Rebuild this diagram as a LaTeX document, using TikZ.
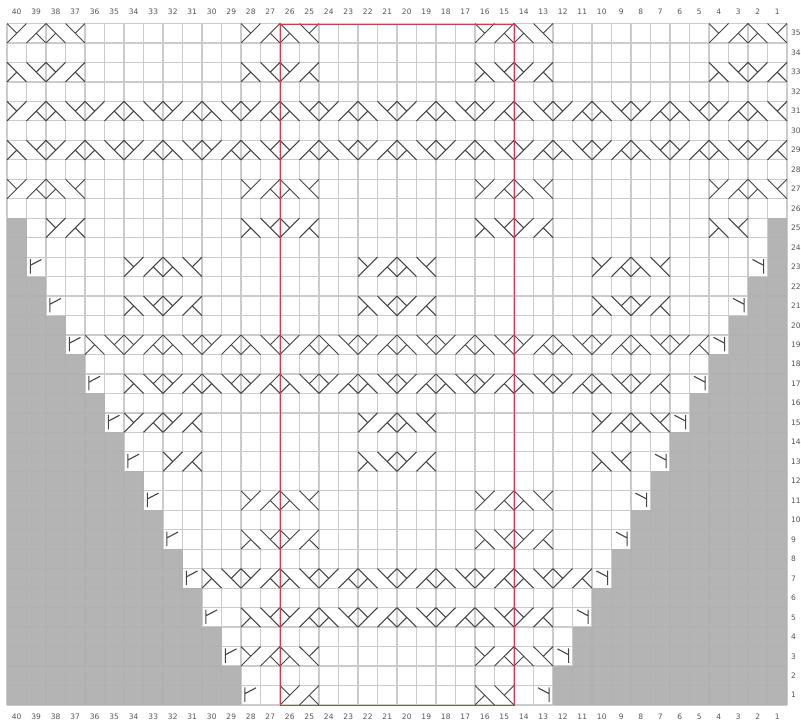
\documentclass[tikz,border=0pt]{standalone}
\usepackage{fontspec}
\setmainfont{DejaVu Sans}
\definecolor{gridline}{HTML}{CBCBCB}
\definecolor{edgegray}{HTML}{B0B0B0}
\definecolor{stitch}{HTML}{444444}
\definecolor{repeatbox}{HTML}{CC3F48}
\definecolor{numeral}{HTML}{555555}
\tikzset{
  stitchline/.style={draw=stitch,line width=1pt},
  ruling/.style={draw=gridline,line width=1.2pt},
  wipe/.style={draw=white,line width=1.8pt},
  numlabel/.style={font=\fontsize{7.5}{9}\selectfont,text=numeral,inner sep=0pt},
  cable0/.pic={\draw[wipe] (1,.05)--(1,.95);
    \draw[stitchline] (0,1)--(1,0) (0,0)--(.5,.5);},
  cable1/.pic={\draw[stitchline] (0,1)--(1,0) (.5,.5)--(1,1);},
  cable2/.pic={\draw[wipe] (1,.05)--(1,.95);
    \draw[stitchline] (0,0)--(1,1) (.5,.5)--(0,1);},
  cable3/.pic={\draw[stitchline] (0,0)--(1,1) (1,0)--(.5,.5);},
  flagleft/.pic={\draw[stitchline,line width=1.1pt] (.2,.84)--(.2,.1) (.2,.42)--(.77,.12);},
  flagright/.pic={\draw[stitchline,line width=1.1pt] (.8,.84)--(.8,.1) (.8,.42)--(.23,.12);}
}
% #1 chart row from the top, #2 first cell, #3 last cell, #4 phase
\newcommand{\cablerun}[4]{
  \foreach \i in {#2,...,#3}{
    \pgfmathtruncatemacro{\k}{mod(\i+#4,4)}
    \pic at (\i,#1) {cable\k};
  }
}
% the four repeats of the wide motif
\newcommand{\widerows}[2]{
  \cablerun{#1}{0}{3}{#2}
  \cablerun{#1}{12}{15}{#2}
  \cablerun{#1}{24}{27}{#2}
  \cablerun{#1}{36}{39}{#2}
}
% the two inner repeats of the offset motif
\newcommand{\offsetrows}[2]{
  \cablerun{#1}{18}{21}{#2}
  \cablerun{#1}{30}{33}{#2}
}
\begin{document}
\begin{tikzpicture}[x=19.5pt,y=-19.47pt]
\useasboundingbox (-0.359,-1.207) rectangle (40.718,35.98);
\fill[white] (-0.359,-1.207) rectangle (40.718,35.98);
% grid
\foreach \i in {0,...,40} \draw[ruling] (\i,0)--(\i,35);
\foreach \j in {0,...,35} \draw[ruling] (0,\j)--(40,\j);
% shaded edges
\fill[edgegray,opacity=.95] (0,10) rectangle (1,11);
\fill[edgegray,opacity=.95] (39,10) rectangle (40,11);
\foreach \k in {0,...,11}{
  \fill[edgegray,opacity=.95] (0,11+2*\k) rectangle (1+\k,13+2*\k);
  \fill[edgegray,opacity=.95] (39-\k,11+2*\k) rectangle (40,13+2*\k);
}
% edge stitches
\foreach \k in {0,...,11}{
  \pgfmathtruncatemacro{\w}{1+\k}
  \pgfmathtruncatemacro{\v}{39-\w}
  \pgfmathtruncatemacro{\j}{12+2*\k}
  \pic at (\w,\j) {flagleft};
  \pic at (\v,\j) {flagright};
}
% cables
\widerows{0}{0}
\widerows{2}{2}
\cablerun{4}{0}{39}{0}
\cablerun{6}{0}{39}{2}
\widerows{8}{0}
\cablerun{10}{2}{3}{2}
\cablerun{10}{12}{15}{2}
\cablerun{10}{24}{27}{2}
\cablerun{10}{36}{37}{2}
\cablerun{12}{6}{9}{2}
\offsetrows{12}{2}
\cablerun{14}{6}{9}{0}
\offsetrows{14}{0}
\cablerun{16}{4}{35}{2}
\cablerun{18}{6}{33}{0}
\cablerun{20}{6}{7}{2}
\cablerun{20}{8}{9}{0}
\offsetrows{20}{2}
\cablerun{22}{8}{9}{0}
\cablerun{22}{18}{21}{0}
\cablerun{22}{30}{31}{0}
\cablerun{24}{12}{15}{0}
\cablerun{24}{24}{27}{0}
\cablerun{26}{12}{15}{2}
\cablerun{26}{24}{27}{2}
\cablerun{28}{10}{29}{0}
\cablerun{30}{12}{27}{2}
\cablerun{32}{12}{15}{0}
\cablerun{32}{24}{27}{0}
\cablerun{34}{14}{15}{2}
\cablerun{34}{24}{25}{2}
% repeat outline
\node[draw=repeatbox,line width=1.1pt,inner sep=0pt,minimum width=234pt,minimum height=681.45pt,anchor=north west] (repeat) at (14,0) {};
% numbers
\foreach \c in {1,...,40}{
  \pgfmathtruncatemacro{\i}{40-\c}
  \node[numlabel] (top\c) at (\i+.5,-.59) {\c};
  \node[numlabel] (bot\c) at (\i+.5,35.6) {\c};
}
\foreach \r in {1,...,35}{
  \pgfmathtruncatemacro{\j}{35-\r}
  \node[numlabel,anchor=west] (side\r) at (40.2,\j+.5) {\r};
}
\end{tikzpicture}
\end{document}
